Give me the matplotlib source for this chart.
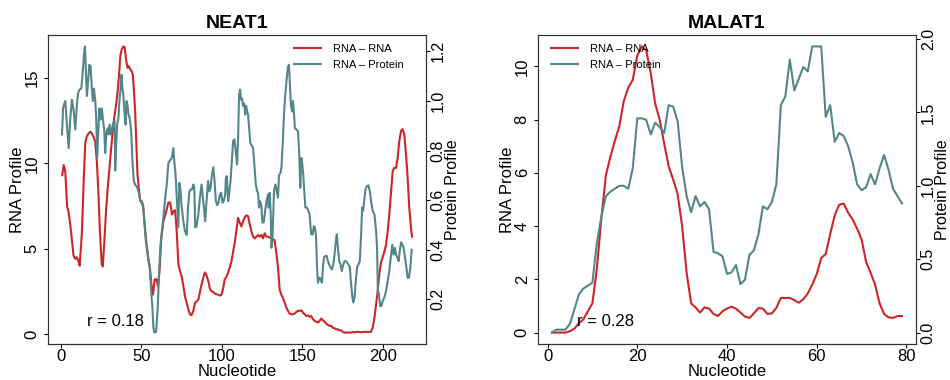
import matplotlib
matplotlib.use("Agg")
import matplotlib.pyplot as plt
from matplotlib.ticker import FixedLocator, FormatStrFormatter

plt.rcParams['font.family'] = ['Liberation Sans', 'DejaVu Sans']

RED = "#CD2626"
TEAL = "#53868B"

# ---------------- NEAT1 ----------------
neat1_rna_x = [1, 1.9, 2.9, 4, 5, 6, 7, 8, 9, 10, 11, 11.8, 13.2, 14.3, 15.3, 16.3, 17.4, 18.4,
               19.4, 20.4, 21.5, 22.5, 23.4, 24.4, 25.5, 26.2, 27.2, 28.2, 29.2, 30.3, 31.3, 32.3,
               33.3, 34.4, 35.4, 36.2, 37.1, 38, 39, 39.8, 40.6, 41.5, 42.3, 43.2, 44.1, 44.8,
               45.5, 46.3, 46.9, 47.7, 48.5, 49.4, 50.4, 51.3, 52.3, 53.3, 54.4, 55.4, 56.4, 57.4,
               58.4, 59.5, 60.5, 61.5, 62.5, 63.8, 65.4, 66.9, 68.0, 69.2, 70.3, 71.1, 72.1, 73.1,
               74.1, 75.2, 76.2, 77.2, 78.3, 79.3, 80.3, 81.3, 82.4, 83.4, 84.4, 85.5, 86.5, 87.5,
               88.6, 89.6, 90.6, 91.7, 92.7, 93.7, 94.8, 95.8, 96.8, 97.8, 98.9, 99.9, 100.9, 101.9,
               103, 104, 105, 106, 107.1, 108.2, 109.2, 110.2, 111.3, 112.3, 113.3, 114.4, 115.4,
               116.4, 117.5, 118.5, 119.5, 120.6, 121.6, 122.6, 123.6, 124.7, 125.7, 126.7, 127.8,
               128.8, 130.9, 132.9, 134, 135, 136, 137.1, 138.1, 139.1, 140.2, 141.2, 142.2, 143.3,
               144.3, 145.3, 146.4, 147.4, 148.4, 149.5, 150.5, 151.5, 152.6, 153.6, 154.6, 155.6,
               156.7, 157.7, 158.7, 159.8, 160.8, 161.8, 162.9, 163.9, 164.9, 165.9, 167, 168, 169,
               170.1, 171.1, 172.1, 173.2, 174.2, 175.2, 176.3, 178.3, 180.4, 181.4, 182.5, 183.5,
               184.5, 186.6, 188.6, 190.7, 192.7, 193.8, 194.9, 195.9, 196.9, 197.9, 199, 200, 201,
               202.1, 203.1, 204.1, 205.2, 206.2, 207.2, 208.3, 209.3, 210.3, 211.4, 212.4, 213.4,
               214.5, 215.5, 216.5, 217.6, 218.2]
neat1_rna = [9.3, 9.9, 9.5, 7.5, 7.1, 6.4, 5.5, 4.6, 4.4, 4.5, 4.3, 4.0, 5.9, 8.9, 11.2, 11.6, 11.75,
             11.85, 11.75, 11.55, 11.25, 10.1, 8.4, 6.0, 4.1, 3.95, 5.5, 7.2, 8.5, 9.7, 10.8, 11.8,
             12.7, 13.4, 14.2, 15.1, 16.3, 16.7, 16.85, 16.8, 16.1, 15.6, 15.7, 15.5, 15.4, 15.2,
             14.3, 13.0, 11.5, 9.4, 8.6, 7.8, 7.7, 7.4, 6.3, 5.3, 4.5, 3.9, 2.9, 2.3, 3.2, 3.2, 2.8,
             3.8, 5.6, 6.6, 7.1, 7.7, 7.7, 7.0, 7.2, 7.25, 6.0, 4.1, 3.7, 3.35, 2.85, 2.2, 1.8, 1.45,
             1.15, 1.1, 1.35, 1.8, 1.9, 2.0, 2.45, 2.9, 3.3, 3.6, 3.45, 3.1, 2.65, 2.5, 2.45, 2.35,
             2.33, 2.3, 2.25, 2.3, 2.65, 3.2, 3.35, 3.6, 3.9, 4.2, 4.8, 5.4, 6.1, 6.8, 6.5, 6.3, 6.6,
             6.85, 6.95, 6.9, 6.4, 6.0, 5.7, 5.6, 5.7, 5.8, 5.7, 5.8, 5.6, 5.9, 5.7, 5.7, 5.6, 5.5,
             4.7, 3.9, 2.6, 2.3, 2.1, 1.83, 1.54, 1.35, 1.19, 1.15, 1.15, 1.19, 1.29, 1.35, 1.35,
             1.38, 1.25, 1.15, 1.05, 1.09, 1.0, 1.05, 0.86, 0.76, 0.72, 0.66, 0.76, 0.9, 0.8, 0.72,
             0.6, 0.53, 0.47, 0.47, 0.37, 0.33, 0.27, 0.27, 0.21, 0.21, 0.12, 0.08, 0.08, 0.08, 0.12,
             0.08, 0.12, 0.12, 0.1, 0.12, 0.12, 0.12, 0.37, 0.96, 1.74, 2.5, 3.5, 4.2, 4.5, 4.8,
             5.25, 6.0, 7.0, 8.37, 9.54, 9.73, 9.73, 10.3, 11.3, 11.9, 12.0, 11.7, 10.5, 9.15, 7.4,
             6.2, 5.7]

neat1_prot_x = [0.85, 1.5, 2.3, 2.9, 3.9, 5, 6, 7, 8.1, 9.1, 10.1, 10.8, 11.6, 12.8, 13.6, 14.5,
                15.1, 15.7, 16.3, 16.9, 17.8, 18.6, 19.4, 20, 20.7, 21.5, 22.1, 22.7, 23.3, 24,
                24.8, 25.6, 26.2, 27.1, 27.7, 28.3, 29.1, 29.7, 30.4, 31.2, 32, 32.6, 33.5, 33.9,
                34.5, 35.1, 35.9, 36.5, 37.2, 37.8, 38.4, 39, 39.6, 40.3, 40.9, 41.5, 42.1, 42.9,
                43.8, 44.6, 45.4, 46.3, 47.3, 48.3, 49.4, 50.4, 51.2, 52, 52.9, 53.7, 54.5, 55.3,
                56.2, 57, 57.6, 58.2, 59.3, 60.3, 61.1, 61.9, 62.8, 63.8, 64.8, 65.9, 66.9, 67.9,
                69, 70, 70.6, 71.4, 73.1, 73.7, 74.5, 75.1, 76.2, 77.2, 78.3, 79.1, 80, 80.9, 81.6,
                82.4, 83, 83.6, 84.4, 85.5, 86.5, 87.5, 88.2, 89, 89.8, 90.6, 91.6, 92.3, 93.1,
                93.9, 94.8, 95.6, 96.4, 97.2, 98, 98.9, 99.7, 100.5, 101.3, 102.2, 102.6, 103.2,
                104, 104.6, 105.5, 106.3, 107.1, 107.9, 108.7, 109.6, 110.2, 110.8, 111.5, 112.1,
                112.7, 113.3, 114, 114.6, 115.2, 115.8, 116.4, 117.05, 117.8, 118.7, 119.5, 120.3,
                121.2, 122, 122.6, 123.2, 123.9, 124.7, 125.3, 126.1, 126.9, 127.8, 128.8, 129.2,
                129.8, 130.5, 130.9, 131.5, 132.5, 133.4, 134.2, 135, 135.6, 136.5, 137.1, 137.9,
                138.7, 139.5, 140.4, 141.2, 141.8, 142.4, 143, 143.7, 144.3, 144.9, 145.5, 146.4,
                147.4, 148.2, 148.8, 149.5, 150.1, 150.7, 151.3, 152, 152.8, 153.6, 154.6, 155.6,
                156.5, 157.3, 157.9, 158.6, 159.2, 159.8, 160.5, 161.1, 161.7, 162.3, 163, 163.6,
                164.4, 165.2, 166, 166.8, 167.6, 168.4, 169.3, 170.1, 170.9, 171.5, 172.2, 173,
                173.8, 174.6, 175.5, 176.3, 177.1, 177.9, 178.8, 179.6, 180.4, 181.2, 181.8, 182.5,
                183.3, 184.1, 184.9, 185.8, 186.6, 187.2, 187.8, 188.5, 189.3, 190.1, 191.1, 192,
                192.8, 193.8, 194.9, 195.9, 196.5, 197, 197.6, 198.4, 199.2, 200, 201, 202.1, 203.1,
                204.1, 205.2, 206, 206.8, 207.6, 208.3, 209.1, 209.9, 210.6, 211.4, 212.2, 213,
                213.9, 214.7, 215.5, 216.3, 217.2, 218]
neat1_prot = [0.865, 0.97, 0.99, 1.0, 0.905, 0.81, 0.93, 1.005, 0.96, 0.885, 0.985, 1.03, 1.045,
              1.05, 1.105, 1.19, 1.22, 1.12, 1.02, 1.066, 1.146, 1.14, 1.05, 1.0, 1.05, 1.0, 0.93,
              0.77, 0.86, 0.97, 0.925, 0.97, 0.93, 0.88, 0.79, 0.865, 0.89, 0.865, 0.905, 0.865,
              0.89, 0.91, 0.92, 0.72, 0.82, 0.905, 0.93, 1.0, 1.05, 1.106, 1.05, 1.02, 0.96, 0.905,
              1.0, 0.985, 0.945, 0.93, 0.88, 0.757, 0.68, 0.66, 0.656, 0.636, 0.60, 0.596, 0.58,
              0.515, 0.435, 0.395, 0.355, 0.33, 0.234, 0.167, 0.086, 0.066, 0.07, 0.167, 0.3, 0.41,
              0.47, 0.53, 0.6, 0.663, 0.75, 0.76, 0.77, 0.81, 0.757, 0.70, 0.49, 0.67, 0.636, 0.58,
              0.515, 0.475, 0.46, 0.57, 0.636, 0.643, 0.643, 0.663, 0.65, 0.49, 0.495, 0.542, 0.61,
              0.663, 0.62, 0.57, 0.515, 0.596, 0.677, 0.636, 0.65, 0.70, 0.733, 0.677, 0.596, 0.58,
              0.59, 0.623, 0.63, 0.59, 0.596, 0.623, 0.69, 0.697, 0.596, 0.623, 0.677, 0.757, 0.838,
              0.845, 0.80, 0.744, 0.85, 1.026, 1.046, 1.005, 1.01, 0.98, 0.99, 0.945, 0.98, 0.96,
              0.945, 0.89, 0.83, 0.82, 0.81, 0.744, 0.663, 0.636, 0.63, 0.57, 0.596, 0.576, 0.51,
              0.51, 0.55, 0.596, 0.623, 0.57, 0.63, 0.54, 0.408, 0.435, 0.636, 0.663, 0.636, 0.61,
              0.70, 0.71, 0.73, 0.824, 0.945, 1.026, 1.09, 1.14, 1.146, 1.066, 0.985, 0.958, 1.0,
              0.95, 0.89, 0.885, 0.878, 0.784, 0.65, 0.77, 0.744, 0.70, 0.636, 0.57, 0.57, 0.562,
              0.542, 0.462, 0.462, 0.495, 0.49, 0.455, 0.33, 0.267, 0.287, 0.287, 0.274, 0.267,
              0.34, 0.37, 0.375, 0.375, 0.354, 0.34, 0.33, 0.32, 0.34, 0.38, 0.435, 0.462, 0.408,
              0.354, 0.34, 0.314, 0.34, 0.354, 0.354, 0.348, 0.34, 0.33, 0.26, 0.207, 0.187, 0.207,
              0.274, 0.33, 0.34, 0.354, 0.462, 0.57, 0.556, 0.596, 0.643, 0.656, 0.66, 0.636, 0.596,
              0.556, 0.542, 0.475, 0.408, 0.227, 0.227, 0.173, 0.173, 0.193, 0.207, 0.234, 0.274,
              0.314, 0.38, 0.42, 0.38, 0.408, 0.38, 0.368, 0.354, 0.395, 0.43, 0.42, 0.408, 0.368,
              0.33, 0.287, 0.287, 0.33, 0.40]

# ---------------- MALAT1 ----------------
malat1_x = list(range(1, 80))
malat1_rna = [0, 0, 0, 0, 0.05, 0.15, 0.35, 0.5, 0.8, 1.1, 2.4, 4.3, 5.9, 6.6, 7.2, 7.75, 8.7, 9.2,
              9.5, 10.4, 10.75, 10.6, 9.75, 8.6, 8.0, 7.1, 6.25, 5.75, 5.2, 4.0, 2.25, 1.1, 0.95,
              0.75, 0.95, 0.9, 0.7, 0.62, 0.8, 0.9, 0.97, 0.9, 0.75, 0.6, 0.55, 0.72, 0.92, 0.9,
              0.7, 0.72, 0.93, 1.3, 1.3, 1.3, 1.22, 1.12, 1.25, 1.47, 1.8, 2.2, 2.8, 2.95, 3.7, 4.4,
              4.8, 4.85, 4.5, 4.25, 3.9, 3.5, 2.65, 2.25, 1.8, 1.1, 0.7, 0.57, 0.55, 0.62, 0.62]
malat1_prot = [0.0, 0.02, 0.02, 0.02, 0.06, 0.16, 0.26, 0.3, 0.32, 0.34, 0.61, 0.79, 0.93, 0.96,
               0.98, 1.0, 1.0, 0.98, 1.12, 1.46, 1.46, 1.45, 1.35, 1.43, 1.40, 1.36, 1.55, 1.54,
               1.44, 1.13, 0.93, 0.82, 0.93, 0.86, 0.89, 0.84, 0.55, 0.54, 0.52, 0.40, 0.41, 0.46,
               0.33, 0.36, 0.53, 0.56, 0.67, 0.86, 0.84, 0.89, 1.01, 1.55, 1.61, 1.86, 1.65, 1.73,
               1.81, 1.78, 1.95, 1.95, 1.95, 1.47, 1.55, 1.30, 1.36, 1.34, 1.27, 1.16, 1.01, 0.97,
               0.99, 1.08, 1.01, 1.12, 1.21, 1.11, 0.98, 0.93, 0.88]

titles = ["NEAT1", "MALAT1"]
corr_labels = ["r = 0.18", "r = 0.28"]
legend_labels = ["RNA \u2013 RNA", "RNA \u2013 Protein"]
xticks_list = [[0, 50, 100, 150, 200], [0, 20, 40, 60, 80]]
yticks_list = [[0, 5, 10, 15], [0, 2, 4, 6, 8, 10]]
y2ticks_list = [[0.2, 0.4, 0.6, 0.8, 1.0, 1.2], [0.0, 0.5, 1.0, 1.5, 2.0]]

fig = plt.figure(figsize=(9.5, 3.8), dpi=100)
W, H = 950.0, 380.0
ax_left = fig.add_axes([48 / W, 1 - 344 / H, 378 / W, 309 / H])
ax_right = fig.add_axes([538 / W, 1 - 344 / H, 378 / W, 309 / H])


def padded(vals, frac=0.04):
    lo, hi = min(vals), max(vals)
    d = (hi - lo) * frac
    return lo - d, hi + d


def panel(ax, rx, ry, px, py, title, xt, yt, y2t, rlabel, rpos, legpos):
    l1, = ax.plot(rx, ry, color=RED, lw=1.5)
    ax2 = ax.twinx()
    l2, = ax2.plot(px, py, color=TEAL, lw=1.5)
    ax.set_xlim(padded(list(rx) + list(px)))
    ax.set_ylim(padded(ry))
    ax2.set_ylim(padded(py))
    ax.xaxis.set_major_locator(FixedLocator(xt))
    ax.yaxis.set_major_locator(FixedLocator(yt))
    ax2.yaxis.set_major_locator(FixedLocator(y2t))
    ax2.yaxis.set_major_formatter(FormatStrFormatter('%.1f'))
    for a in (ax, ax2):
        a.tick_params(direction='out', length=3, width=0.8, labelsize=12, pad=0.5,
                      colors='black')
        for s in a.spines.values():
            s.set_linewidth(0.8)
            s.set_color('#333333')
    ax.tick_params(axis='y', labelrotation=90, pad=3)
    ax2.tick_params(axis='y', labelrotation=90, pad=0.5, labelsize=11.5)
    for lbl in ax.get_yticklabels():
        lbl.set_va('center')
    for lbl in ax2.get_yticklabels():
        lbl.set_va('center')
    ax.set_title(title, fontsize=14, fontweight='bold', pad=5)
    ax.set_xlabel("Nucleotide", fontsize=12, labelpad=0)
    ax.set_ylabel("RNA Profile", fontsize=12, labelpad=0)
    ax2.set_ylabel("Protein Profile", fontsize=11.5, labelpad=-0.5)
    ax.text(rpos[0], rpos[1], rlabel, transform=ax.transAxes, ha='center', va='center',
            fontsize=12)
    ax2.legend([l1, l2], legend_labels, loc='upper left', bbox_to_anchor=legpos,
               frameon=False, fontsize=8, handlelength=2.4, handletextpad=1.1,
               labelspacing=0.55, borderpad=0, borderaxespad=0)


panel(ax_left, neat1_rna_x, neat1_rna, neat1_prot_x, neat1_prot, titles[0],
      xticks_list[0], yticks_list[0], y2ticks_list[0], corr_labels[0],
      ((115.5 - 48) / 378, (344 - 322) / 309), ((294 - 48) / 378, (344 - 44) / 309))
panel(ax_right, malat1_x, malat1_rna, malat1_x, malat1_prot, titles[1],
      xticks_list[1], yticks_list[1], y2ticks_list[1], corr_labels[1],
      ((605.5 - 538) / 378, (344 - 322) / 309), ((551 - 538) / 378, (344 - 44) / 309))

fig.savefig("out.png", dpi=100)
